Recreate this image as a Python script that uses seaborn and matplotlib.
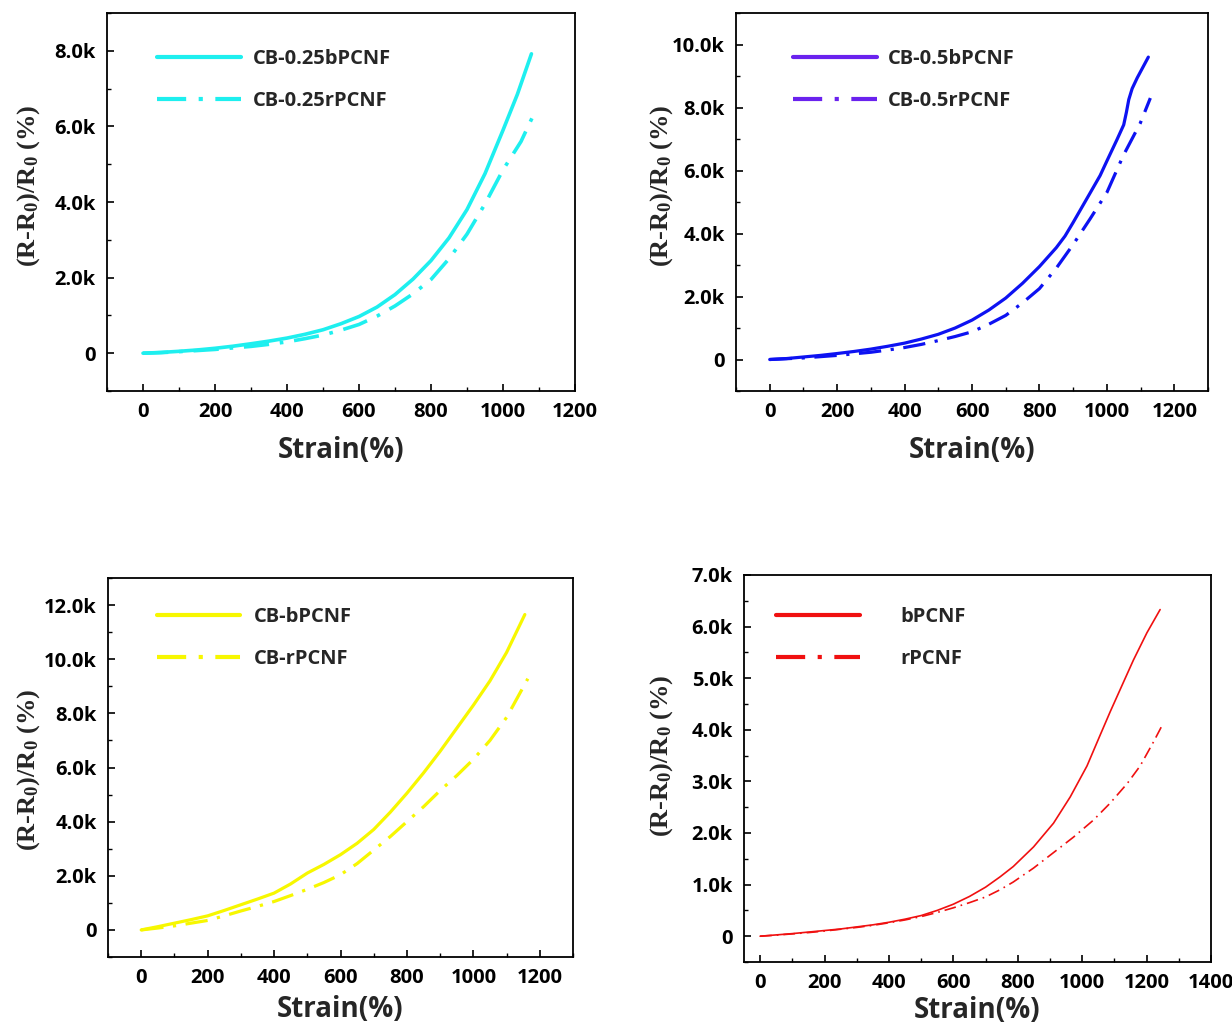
import numpy as np
import pandas as pd
import matplotlib
matplotlib.use("Agg")
import matplotlib.pyplot as plt
from matplotlib.ticker import MultipleLocator, FuncFormatter
import seaborn as sns

sns.set_theme(style="ticks")
plt.rcParams['font.family'] = ['Open Sans', 'DejaVu Sans']
plt.rcParams['mathtext.fontset'] = 'custom'
plt.rcParams['mathtext.rm'] = 'Liberation Serif:bold'
plt.rcParams['mathtext.it'] = 'Liberation Serif:italic:bold'
plt.rcParams['mathtext.bf'] = 'Liberation Serif:bold'
plt.rcParams['mathtext.default'] = 'rm'

# ---------------- data ----------------
# Panel (a): CB-0.25
a_b_x = [0, 50, 100, 150, 200, 250, 300, 350, 400, 450, 500, 550, 600, 650, 700, 750,
         800, 850, 900, 950, 1000, 1040, 1079]
a_b_y = [0, 20, 50, 85, 130, 185, 250, 320, 400, 500, 620, 780, 970, 1220, 1550, 1960,
         2450, 3050, 3800, 4750, 5900, 6850, 7920]
a_r_x = [0, 50, 100, 150, 200, 250, 300, 350, 400, 450, 500, 550, 600, 650, 700, 750,
         800, 850, 900, 950, 1000, 1050, 1088]
a_r_y = [0, 15, 40, 70, 100, 140, 180, 235, 300, 385, 480, 610, 760, 980, 1250, 1570,
         1950, 2500, 3150, 3950, 4850, 5600, 6370]

# Panel (b): CB-0.5
b_b_x = [0, 50, 100, 150, 200, 250, 300, 350, 400, 450, 500, 550, 600, 650, 700, 750,
         800, 850, 876, 900, 950, 980, 1000, 1030, 1050, 1058, 1065, 1075, 1090, 1123]
b_b_y = [0, 30, 80, 130, 190, 255, 330, 420, 520, 650, 800, 1000, 1250, 1570, 1950, 2420,
         2950, 3550, 3920, 4350, 5280, 5840, 6300, 6980, 7450, 7850, 8250, 8600, 8940, 9600]
b_r_x = [0, 50, 100, 150, 200, 250, 300, 350, 400, 450, 500, 550, 600, 650, 700, 750,
         800, 850, 900, 950, 1000, 1049, 1099, 1129]
b_r_y = [0, 25, 50, 90, 130, 180, 230, 300, 380, 480, 600, 730, 880, 1120, 1400, 1800,
         2250, 2900, 3650, 4460, 5300, 6480, 7500, 8300]

# Panel (c): CB
c_b_x = [0, 50, 100, 150, 200, 250, 300, 350, 400, 450, 500, 550, 600, 650, 700, 750,
         800, 850, 900, 950, 1000, 1050, 1100, 1155]
c_b_y = [0, 120, 250, 380, 520, 720, 930, 1140, 1360, 1700, 2100, 2420, 2780, 3200, 3710,
         4350, 5050, 5800, 6600, 7450, 8300, 9200, 10250, 11650]
c_r_x = [0, 50, 100, 150, 200, 250, 300, 350, 400, 450, 500, 550, 600, 650, 700, 750,
         800, 850, 900, 950, 1000, 1050, 1100, 1164]
c_r_y = [0, 70, 150, 250, 350, 520, 700, 870, 1050, 1270, 1500, 1750, 2040, 2450, 2950,
         3450, 4000, 4550, 5150, 5700, 6300, 7000, 7850, 9280]

# Panel (d): PCNF
d_b_x = [0, 50, 100, 150, 200, 250, 300, 350, 400, 450, 500, 550, 600, 650, 700, 745,
         786, 849, 911, 963, 1015, 1056, 1087, 1128, 1159, 1201, 1242]
d_b_y = [0, 25, 50, 80, 110, 140, 180, 220, 270, 330, 400, 500, 620, 770, 950, 1150,
         1350, 1730, 2190, 2700, 3300, 3900, 4350, 4920, 5350, 5880, 6330]
d_r_x = [0, 50, 100, 150, 200, 250, 300, 350, 400, 450, 500, 550, 600, 650, 700, 745,
         786, 849, 911, 973, 1035, 1087, 1140, 1180, 1221, 1252]
d_r_y = [0, 20, 45, 70, 100, 135, 170, 210, 260, 315, 380, 460, 550, 650, 760, 900,
         1050, 1320, 1620, 1920, 2250, 2580, 2960, 3300, 3760, 4130]

labels_a = ["CB-0.25bPCNF", "CB-0.25rPCNF"]
labels_b = ["CB-0.5bPCNF", "CB-0.5rPCNF"]
labels_c = ["CB-bPCNF", "CB-rPCNF"]
labels_d = ["bPCNF", "rPCNF"]

W, H = 1232, 1028
fig = plt.figure(figsize=(W / 100, H / 100), dpi=100)
fig.patch.set_facecolor("white")


def px_axes(l, t, r, b):
    return fig.add_axes([l / W, 1 - b / H, (r - l) / W, (b - t) / H])


def kfmt(v, pos):
    if abs(v) < 1e-9:
        return "0"
    return f"{v/1000:.1f}k"


panels = [
    dict(box=(107, 13, 575, 391), bx=a_b_x, by=a_b_y, rx=a_r_x, ry=a_r_y, labels=labels_a,
         color="#1EEFEF", legcolor="#1EEFEF", lw=2.6, xlim=(-100, 1200), ylim=(-1000, 9000),
         ymaj=2000, ymin=1000, leg=(0.107, 0.905), hpad=0.6,
         ylab=(-0.139, 0.542), xpad=10),
    dict(box=(736, 13, 1208, 391), bx=b_b_x, by=b_b_y, rx=b_r_x, ry=b_r_y, labels=labels_b,
         color="#0D12F2", legcolor="#6A22EE", lw=2.3, xlim=(-100, 1300), ylim=(-1000, 11000),
         ymaj=2000, ymin=1000, leg=(0.121, 0.905), hpad=0.55,
         ylab=(-0.129, 0.542), xpad=10),
    dict(box=(108, 578, 573, 957), bx=c_b_x, by=c_b_y, rx=c_r_x, ry=c_r_y, labels=labels_c,
         color="#F7F700", legcolor="#F7F700", lw=2.3, xlim=(-100, 1300), ylim=(-1000, 13000),
         ymaj=2000, ymin=1000, leg=(0.105, 0.923), hpad=0.65,
         ylab=(-0.142, 0.493), xpad=5),
    dict(box=(744, 575, 1211, 962), bx=d_b_x, by=d_b_y, rx=d_r_x, ry=d_r_y, labels=labels_d,
         color="#F01010", legcolor="#F01010", lw=1.2, xlim=(-50, 1400), ylim=(-500, 7000),
         ymaj=1000, ymin=500, leg=(0.069, 0.917), hpad=2.0,
         ylab=(-0.148, 0.532), xpad=2),
]

for p in panels:
    ax = px_axes(*p["box"])
    df = pd.DataFrame({
        "strain": list(p["bx"]) + list(p["rx"]),
        "resp": list(p["by"]) + list(p["ry"]),
        "sample": [p["labels"][0]] * len(p["bx"]) + [p["labels"][1]] * len(p["rx"]),
    })
    sns.lineplot(data=df, x="strain", y="resp", hue="sample", style="sample",
                 palette={p["labels"][0]: p["color"], p["labels"][1]: p["color"]},
                 dashes={p["labels"][0]: "", p["labels"][1]: (7, 3, 1, 3)},
                 sort=False, estimator=None, lw=p["lw"], ax=ax, legend="auto")
    for ln in ax.get_lines():
        ln.set_solid_joinstyle("round")
        ln.set_dash_joinstyle("round")
    old = ax.get_legend()
    handles = list(old.legend_handles)
    texts = [t.get_text() for t in old.get_texts()]
    old.remove()
    leg = ax.legend(handles, texts, loc="upper left", bbox_to_anchor=p["leg"],
                    frameon=False, borderpad=0, borderaxespad=0,
                    handlelength=4.15, handletextpad=p["hpad"], labelspacing=1.1,
                    prop=dict(family="Open Sans", weight="bold", size=14.5))
    for h in leg.get_lines():
        h.set_linewidth(3.0)
        h.set_color(p["legcolor"])

    ax.set_xlim(*p["xlim"])
    ax.set_ylim(*p["ylim"])
    ax.xaxis.set_major_locator(MultipleLocator(200))
    ax.xaxis.set_minor_locator(MultipleLocator(100))
    ax.yaxis.set_major_locator(MultipleLocator(p["ymaj"]))
    ax.yaxis.set_minor_locator(MultipleLocator(p["ymin"]))
    ax.yaxis.set_major_formatter(FuncFormatter(kfmt))
    ax.tick_params(axis="both", which="major", direction="in", length=5, width=1.2,
                   colors="black", labelsize=14.5, pad=8)
    ax.tick_params(axis="both", which="minor", direction="in", length=3, width=1.0,
                   colors="black")
    ax.tick_params(top=False, right=False, which="both")
    for lab in ax.get_xticklabels() + ax.get_yticklabels():
        lab.set_fontweight("bold")
        lab.set_family("Open Sans")
    for s in ax.spines.values():
        s.set_linewidth(1.3)
        s.set_color("black")
        s.set_visible(True)
    ax.set_facecolor("white")
    ax.set_xlabel("Strain(%)", fontsize=20, fontweight="bold", family="Open Sans",
                  labelpad=p["xpad"])
    ax.set_ylabel("(R-R$_0$)/R$_0$ (%)", fontsize=19, fontweight="bold",
                  family="Liberation Serif")
    ax.yaxis.set_label_coords(*p["ylab"])
    ax.grid(False)

fig.savefig("out.png", dpi=100, facecolor="white")
